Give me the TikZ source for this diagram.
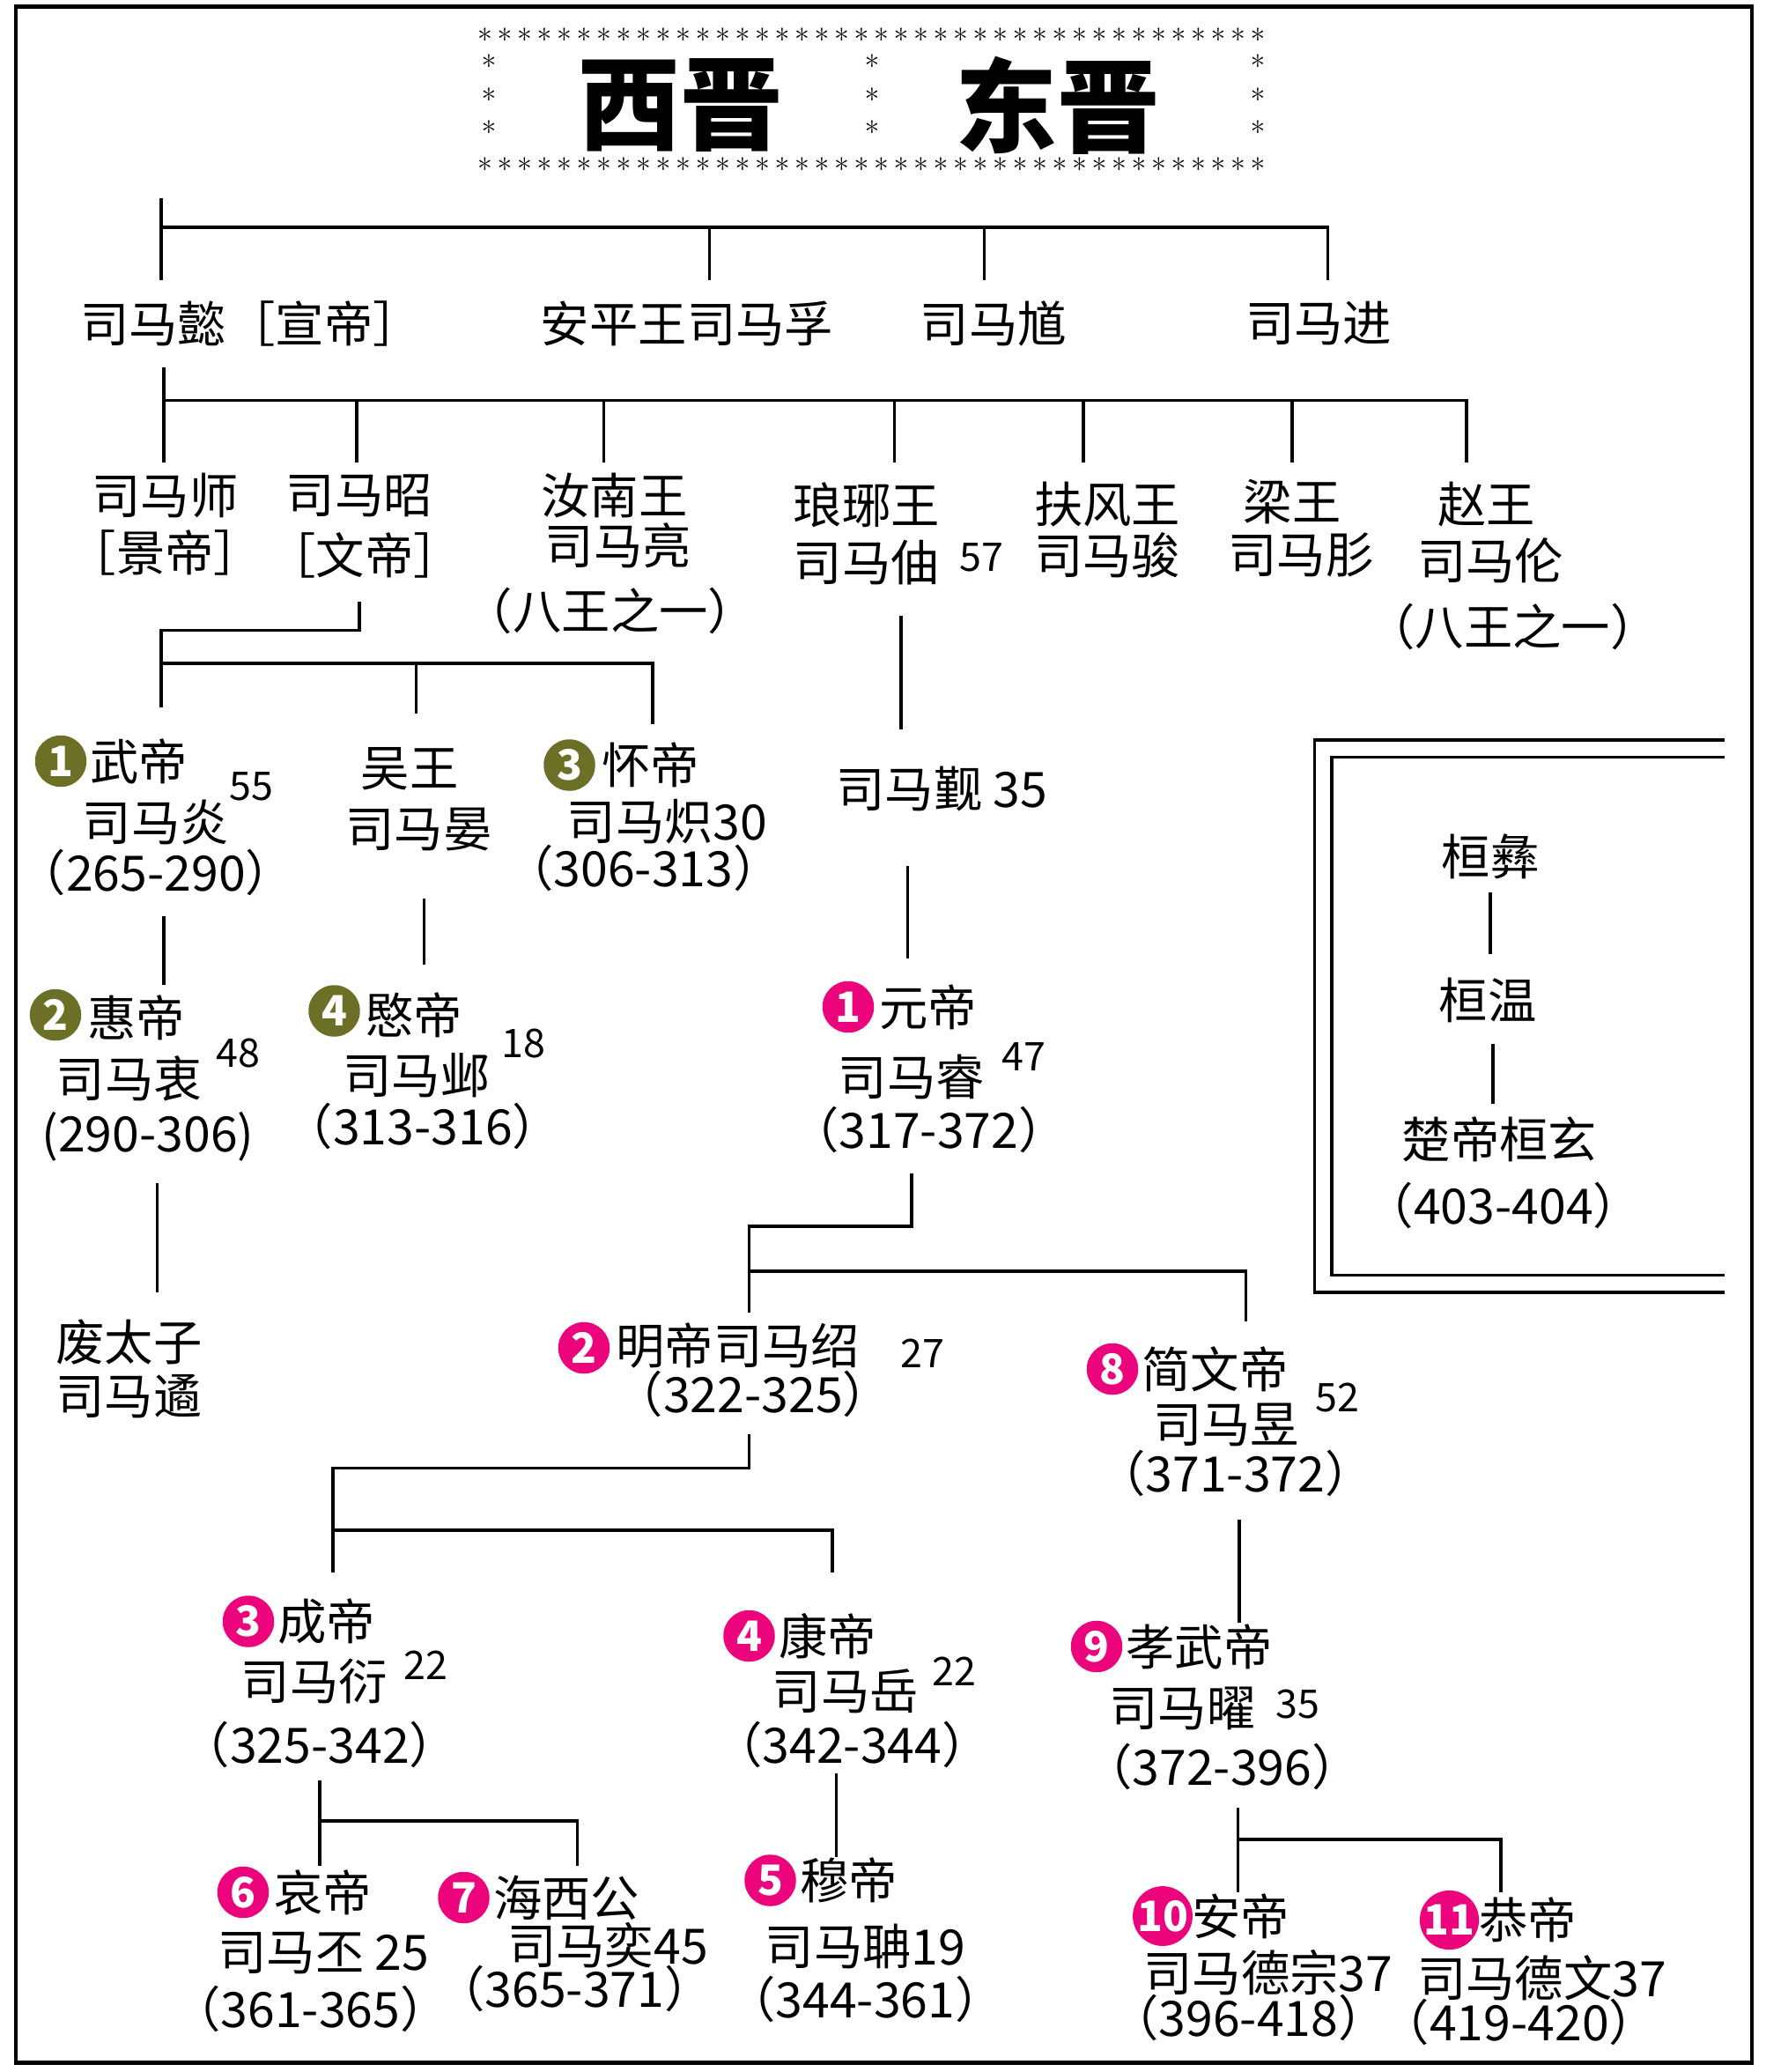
\documentclass[tikz,border=0pt]{standalone}
\usepackage{fontspec}
\setmainfont{Noto Sans CJK SC}
\newfontfamily\lmfont{Latin Modern Roman}
\begin{document}
\begin{tikzpicture}[x=0.02cm,y=-0.02cm,
  t/.style={font=\fontsize{21}{25}\selectfont,inner sep=0pt},
  sm/.style={font=\fontsize{17}{20}\selectfont,inner sep=0pt},
  ttl/.style={font=\fontsize{44}{50}\selectfont,inner sep=0pt},
  gb/.style={circle,fill=olive!85!green!70!black,text=white,minimum size=0.78cm,inner sep=0pt,font=\fontsize{18}{20}\selectfont\bfseries},
  pb/.style={circle,fill=magenta!85!red,text=white,minimum size=0.78cm,inner sep=0pt,font=\fontsize{18}{20}\selectfont\bfseries},
  ln/.style={line width=1.4pt},
  ast/.style={font=\lmfont\fontsize{13}{13}\selectfont,inner sep=0pt}]
\useasboundingbox (0,0) rectangle (1336,1568);
\draw[line width=1.6pt] (12,5) rectangle (1326,1561);
% title box
\foreach \x in {367,382,...,955} {\node[ast] at (\x,30) {*}; \node[ast] at (\x,128) {*};}
\foreach \y in {50,75,100} {\node[ast] at (370,\y) {*}; \node[ast] at (660,\y) {*}; \node[ast] at (952,\y) {*};}
\node[ttl] (xj) at (515,80) {\bfseries 西晋};
\node[ttl] (dj) at (800,80) {\bfseries 东晋};
% level 1
\draw[ln] (122,150) -- (122,212);
\draw[ln] (122,172) -- (1005,172) -- (1005,212);
\draw[ln] (537,172) -- (537,212);
\draw[ln] (745,172) -- (745,212);
\node[t] (yi) at (190,245) {司马懿［宣帝］};
\node[t] (fu) at (520,245) {安平王司马孚};
\node[t] (kui) at (752,245) {司马馗};
\node[t] (jin) at (998,245) {司马进};
% level 2
\draw[ln] (124,278) -- (124,350);
\draw[ln] (124,303) -- (1110,303) -- (1110,350);
\foreach \x in {270,457,677,820,978} \draw[ln] (\x,303) -- (\x,350);
\node[t] (shi) at (125,375) {司马师};
\node[t] at (125,418) {［景帝］};
\node[t] (zhao) at (272,375) {司马昭};
\node[t] at (276,420) {［文帝］};
\node[t] (liang) at (465,375) {汝南王};
\node[t] at (468,413) {司马亮};
\node[t] at (462,462) {（八王之一）};
\node[t] (zhou) at (656,382) {琅琊王};
\node[t] at (656,426) {司马伷};
\node[sm] at (743,422) {57};
\node[t] (jun) at (838,382) {扶风王};
\node[t] at (838,420) {司马骏};
\node[t] (rong) at (978,380) {梁王};
\node[t] at (985,420) {司马肜};
\node[t] (lun) at (1125,382) {赵王};
\node[t] at (1128,424) {司马伦};
\node[t] at (1145,474) {（八王之一）};
% level 3
\draw[ln] (272,455) -- (272,477) -- (122,477) -- (122,535);
\draw[ln] (122,502) -- (494,502) -- (494,548);
\draw[ln] (315,502) -- (315,540);
\draw[ln] (682,466) -- (682,552);
\node[gb] (b1) at (46,576) {1};
\node[t,anchor=west] at (68,576) {武帝};
\node[t] (yan) at (118,622) {司马炎};
\node[sm] at (190,595) {55};
\node[t] at (118,660) {（265-290）};
\node[t] (wuwang) at (310,582) {吴王};
\node[t] at (317,628) {司马晏};
\node[gb] (b3) at (431,579) {3};
\node[t,anchor=west] at (455,579) {怀帝};
\node[t] (chi) at (505,622) {司马炽30};
\node[t] at (487,657) {（306-313）};
\node[t] (jinn) at (713,597) {司马觐 35};
% level 4
\draw[ln] (124,693) -- (124,745);
\draw[ln] (321,680) -- (321,730);
\draw[ln] (687,655) -- (687,725);
\node[gb] (b2) at (42,768) {2};
\node[t,anchor=west] at (66,770) {惠帝};
\node[t] (zhong) at (98,816) {司马衷};
\node[sm] at (180,797) {48};
\node[t] at (112,860) {(290-306)};
\node[gb] (b4) at (253,765) {4};
\node[t,anchor=west] at (276,768) {愍帝};
\node[t] (ye) at (315,814) {司马邺};
\node[sm] at (396,790) {18};
\node[t] at (320,852) {（313-316）};
\node[pb] (e1) at (642,762) {1};
\node[t,anchor=west] at (665,762) {元帝};
\node[t] (rui) at (690,815) {司马睿};
\node[sm] at (775,800) {47};
\node[t] at (703,855) {（317-372）};
% 废太子
\draw[ln] (119,895) -- (119,978);
\node[t,anchor=west] (yu) at (42,1016) {废太子};
\node[t,anchor=west] at (42,1057) {司马遹};
% east level 2
\draw[ln] (690,888) -- (690,928) -- (567,928) -- (567,993);
\draw[ln] (567,962) -- (943,962) -- (943,1000);
\node[pb] (e2) at (442,1020) {2};
\node[t,anchor=west] (shao) at (466,1018) {明帝司马绍};
\node[sm] at (698,1024) {27};
\node[t] at (570,1055) {（322-325）};
\node[pb] (e8) at (842,1036) {8};
\node[t,anchor=west] at (864,1036) {简文帝};
\node[t] (yuu) at (928,1078) {司马昱};
\node[sm] at (1012,1058) {52};
\node[t] at (935,1115) {（371-372）};
% east level 3
\draw[ln] (567,1085) -- (567,1111) -- (252,1111) -- (252,1190);
\draw[ln] (252,1158) -- (630,1158) -- (630,1190);
\draw[ln] (938,1150) -- (938,1228);
\node[pb] (e3) at (188,1227) {3};
\node[t,anchor=west] at (210,1227) {成帝};
\node[t] (yann) at (238,1272) {司马衍};
\node[sm] at (322,1260) {22};
\node[t] at (242,1320) {（325-342）};
\node[pb] (e4) at (567,1238) {4};
\node[t,anchor=west] at (589,1238) {康帝};
\node[t] (yue) at (640,1280) {司马岳};
\node[sm] at (722,1265) {22};
\node[t] at (645,1320) {（342-344）};
\node[pb] (e9) at (830,1246) {9};
\node[t,anchor=west] at (852,1246) {孝武帝};
\node[t] (yao) at (895,1293) {司马曜};
\node[sm] at (982,1290) {35};
\node[t] at (925,1337) {（372-396）};
% east level 4
\draw[ln] (242,1347) -- (242,1412);
\draw[ln] (242,1378) -- (437,1378) -- (437,1412);
\draw[ln] (633,1342) -- (633,1405);
\draw[ln] (937,1368) -- (937,1432);
\draw[ln] (937,1392) -- (1136,1392) -- (1136,1432);
\node[pb] (e6) at (184,1432) {6};
\node[t,anchor=west] at (207,1432) {哀帝};
\node[t] (pi) at (245,1478) {司马丕 25};
\node[t] at (235,1520) {（361-365）};
\node[pb] (e7) at (351,1436) {7};
\node[t,anchor=west] at (373,1436) {海西公};
\node[t] (yi2) at (460,1472) {司马奕45};
\node[t] at (435,1505) {（365-371）};
\node[pb] (e5) at (583,1423) {5};
\node[t,anchor=west] at (605,1423) {穆帝};
\node[t] (dan) at (655,1473) {司马聃19};
\node[t] at (655,1513) {（344-361）};
\node[pb] (e10) at (880,1450) {10};
\node[t,anchor=west] at (902,1450) {安帝};
\node[t] (dz) at (960,1493) {司马德宗37};
\node[t] at (945,1527) {（396-418）};
\node[pb] (e11) at (1097,1453) {11};
\node[t,anchor=west] at (1119,1453) {恭帝};
\node[t] (dw) at (1167,1497) {司马德文37};
\node[t] at (1150,1530) {（419-420）};
% Huan box
\draw[ln] (1305,560) -- (995,560) -- (995,978) -- (1305,978);
\draw[ln] (1305,573) -- (1008,573) -- (1008,965) -- (1305,965);
\node[t] (hy) at (1128,648) {桓彝};
\node[t] (hw) at (1126,757) {桓温};
\node[t] (hx) at (1135,862) {楚帝桓玄};
\node[t] at (1138,912) {（403-404）};
\draw[ln] (1128,675) -- (1128,722);
\draw[ln] (1130,790) -- (1130,835);
\end{tikzpicture}
\end{document}
